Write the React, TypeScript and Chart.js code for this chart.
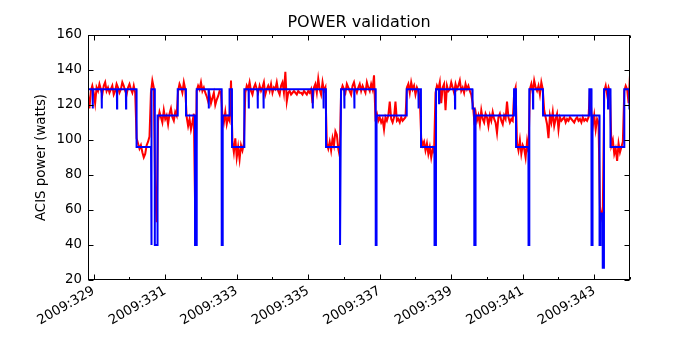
import React, { useEffect, useRef } from "react";
import { Chart, registerables } from "chart.js";

Chart.register(...registerables);

const TITLE = "POWER validation";
const Y_LABEL = "ACIS power (watts)";
const YEAR = "2009";
const X_MIN = 328.84;
const X_MAX = 344.0;
const Y_MIN = 20;
const Y_MAX = 160;

const majorDays = [329, 331, 333, 335, 337, 339, 341, 343];
const minorDays = [330, 332, 334, 336, 338, 340, 342, 344];
const yTickValues = [20, 40, 60, 80, 100, 120, 140, 160];

// Model (blue) – day of year, watts
const modelDays = [
  328.84, 328.967, 328.972, 328.977, 329.219, 329.224, 329.229, 329.647, 329.652, 329.657,
  329.899, 329.904, 329.909, 330.195, 330.199, 330.603, 330.606, 330.62, 330.623, 330.706,
  330.709, 330.782, 330.785, 331.347, 331.35, 331.579, 331.582, 331.831, 331.834, 331.878,
  331.881, 332.212, 332.217, 332.222, 332.577, 332.58, 332.605, 332.608, 332.796, 332.799,
  332.866, 332.869, 333.21, 333.213, 333.331, 333.336, 333.341, 333.582, 333.587, 333.592,
  333.745, 333.75, 333.755, 335.121, 335.126, 335.131, 335.423, 335.428, 335.433, 335.495,
  335.498, 335.887, 335.89, 335.914, 335.917, 336.005, 336.01, 336.015, 336.285, 336.29,
  336.295, 336.885, 336.888, 336.908, 336.911, 337.752, 337.755, 338.08, 338.085, 338.09,
  338.152, 338.155, 338.53, 338.533, 338.572, 338.575, 338.654, 338.659, 338.664, 339.101,
  339.106, 339.111, 339.59, 339.596, 339.643, 339.646, 339.677, 339.68, 340.754, 340.757,
  340.81, 340.813, 341.159, 341.162, 341.181, 341.184, 341.283, 341.288, 341.293, 341.565,
  341.568, 342.86, 342.863, 342.921, 342.924, 342.949, 342.952, 343.145, 343.148, 343.173,
  343.176, 343.235, 343.238, 343.271, 343.274, 343.381, 343.386, 343.391, 343.452, 343.455,
  343.838, 343.841, 343.978, 343.985, 344.05,
];
const modelWatts = [
  129, 129, 118, 129, 129, 118, 129, 129, 118, 129,
  129, 118, 129, 129, 96, 96, 40, 40, 129, 129,
  40, 40, 114, 114, 129, 129, 114, 114, 40, 40,
  129, 129, 118, 129, 129, 40, 40, 114, 114, 129,
  129, 96, 96, 129, 129, 118, 129, 129, 118, 129,
  129, 118, 129, 129, 118, 129, 129, 118, 129, 129,
  96, 96, 40, 40, 129, 129, 118, 129, 129, 118,
  129, 129, 40, 40, 114, 114, 129, 129, 118, 129,
  129, 96, 96, 40, 40, 129, 129, 121, 129, 129,
  118, 129, 129, 118, 118, 40, 40, 114, 114, 129,
  129, 96, 96, 40, 40, 129, 129, 118, 129, 129,
  114, 114, 129, 129, 40, 40, 114, 114, 40, 40,
  58, 58, 27, 27, 129, 129, 118, 129, 129, 96,
  96, 129, 129, 118, 118,
];

// Telemetry (red) – samples every 0.04 day from day 328.84
const telemStartDay = 328.84;
const telemStepDay = 0.04;
const telemWatts = [
  126, 118, 128, 131, 127, 121, 130, 128, 132, 129,
  126, 131, 133, 128, 130, 127, 129, 131, 126, 128,
  132, 130, 127, 129, 133, 131, 128, 126, 130, 132,
  129, 127, 131, 127,
  101, 98, 95, 97, 93, 90, 92, 97, 99, 102,
  127, 134, 130, 70, 53,
  111, 116, 113, 110, 117, 112, 114, 109, 115, 118, 113, 111, 116, 114,
  128, 132, 130, 127, 133, 129,
  113, 108, 112, 106, 110, 115,
  56, 128,
  131, 129, 133, 128, 130, 127, 125,
  122, 126, 121, 124, 127, 120, 123, 125, 128,
  127,
  114, 110, 116, 109, 113, 111,
  134,
  99, 93, 101, 90, 96, 89, 97, 94, 98,
  127, 131, 129, 133, 128, 126, 130, 132, 129, 127,
  131, 128, 130, 133, 126, 129, 131, 128, 132, 127,
  130, 129, 133, 128, 126, 131,
  133, 127, 139, 122, 127, 128, 126, 127, 128, 127,
  126, 128, 127, 127, 126, 128, 127, 126, 128, 127, 129,
  121, 130, 132, 127, 135, 129, 126, 133, 128, 130,
  98, 95, 99, 94, 101, 97, 105, 103, 95, 91,
  128, 131, 129, 127, 132, 130, 128, 126, 131, 133,
  129, 127, 130, 132, 128, 131, 129, 127, 133, 130,
  128, 132, 129, 137,
  113, 115, 111, 113, 110, 112, 106, 113, 111, 114,
  122, 112, 110, 113, 122, 111, 112, 110, 113, 111, 112, 113,
  130, 132, 127, 133, 129, 131, 126, 130, 128, 124,
  101, 97, 99, 94, 98, 92, 96, 90, 95, 93,
  127, 131, 129, 133, 121, 130, 132, 117, 131, 128,
  129, 133, 130, 127, 132, 129, 131, 134, 128, 130,
  127, 132, 129, 131, 128, 126,
  121, 112,
  116, 111, 114, 109, 117, 112, 110, 115, 113, 108,
  114, 111, 116, 112, 110, 104, 113, 115, 111, 109,
  114, 112, 122, 113, 110, 112, 111,
  127, 130,
  98, 94, 100, 92, 97, 95, 90, 99, 93,
  129, 132, 127, 134, 130, 128, 131, 126, 133, 129,
  117, 113, 109, 101, 114, 110, 116, 108, 112, 115, 106, 113,
  111, 112, 113, 110, 112, 111, 113, 112, 111, 110,
  112, 113, 111, 112, 110, 113, 111, 112, 111, 113,
  129, 116, 108, 114, 106, 112, 110,
  62, 56, 60,
  128, 131, 126, 130, 127,
  97, 100, 92, 95, 88, 98, 93, 96, 99,
  128, 131, 129, 121, 137,
];

const FONT = '"DejaVu Sans", "Liberation Sans", sans-serif';
const FONT_SIZE = 13.33;

const framePlugin = {
  id: "mplFrame",
  afterDraw(chart: any) {
    const { ctx, chartArea, scales } = chart;
    const { left, right, top, bottom } = chartArea;
    ctx.save();
    ctx.strokeStyle = "#000";
    ctx.lineWidth = 1;
    const L = Math.round(left) + 0.5;
    const R = Math.round(right) - 0.5;
    const T = Math.round(top) + 0.5;
    const B = Math.round(bottom) - 0.5;
    ctx.strokeRect(L, T, R - L, B - T);
    ctx.beginPath();
    const drawX = (d: number, len: number) => {
      const x = Math.round(scales.x.getPixelForValue(d)) + 0.5;
      if (x < left - 0.5 || x > right + 0.5) return;
      ctx.moveTo(x, B);
      ctx.lineTo(x, B - len);
      ctx.moveTo(x, T);
      ctx.lineTo(x, T + len);
    };
    majorDays.forEach((d) => drawX(d, 5));
    minorDays.forEach((d) => drawX(d, 2.5));
    yTickValues.forEach((v) => {
      const y = Math.round(scales.y.getPixelForValue(v)) + 0.5;
      ctx.moveTo(L, y);
      ctx.lineTo(L + 5, y);
      ctx.moveTo(R, y);
      ctx.lineTo(R - 5, y);
    });
    ctx.stroke();
    ctx.fillStyle = "#000";
    ctx.font = `16px ${FONT}`;
    ctx.textAlign = "center";
    ctx.textBaseline = "middle";
    ctx.fillText(TITLE, (left + right) / 2, 23);
    ctx.restore();
  },
};

export default function App() {
  const canvasRef = useRef<HTMLCanvasElement | null>(null);

  useEffect(() => {
    const canvas = canvasRef.current;
    if (!canvas) return;
    const modelData = modelDays.map((d, i) => ({ x: d, y: modelWatts[i] }));
    const telemData = telemWatts.map((w, i) => ({ x: telemStartDay + i * telemStepDay, y: w }));

    const chart = new Chart(canvas, {
      type: "line",
      data: {
        datasets: [
          {
            label: "model",
            data: modelData,
            borderColor: "#0000ff",
            borderWidth: 2,
            pointRadius: 0,
            tension: 0,
            fill: false,
            order: 0,
          },
          {
            label: "telemetry",
            data: telemData,
            borderColor: "#ff0000",
            borderWidth: 2,
            pointRadius: 0,
            tension: 0,
            fill: false,
            order: 1,
          },
        ],
      },
      options: {
        animation: false,
        responsive: true,
        maintainAspectRatio: false,
        layout: { padding: { top: 35, right: 70, left: 0, bottom: 0 } },
        plugins: {
          legend: { display: false },
          tooltip: { enabled: false },
          title: { display: false },
        },
        scales: {
          x: {
            type: "linear",
            min: X_MIN,
            max: X_MAX,
            afterBuildTicks: (scale: any) => {
              scale.ticks = majorDays.map((v) => ({ value: v }));
            },
            afterFit: (scale: any) => {
              scale.height = 70;
            },
            grid: { display: false, drawTicks: false },
            border: { display: false },
            ticks: {
              minRotation: 30,
              maxRotation: 30,
              autoSkip: false,
              padding: 3,
              color: "#000",
              font: { family: FONT, size: FONT_SIZE },
              callback: (v: any) => `${YEAR}:${v}`,
            },
          },
          y: {
            min: Y_MIN,
            max: Y_MAX,
            afterBuildTicks: (scale: any) => {
              scale.ticks = yTickValues.map((v) => ({ value: v }));
            },
            afterFit: (scale: any) => {
              scale.width = 88;
            },
            grid: { display: false, drawTicks: false },
            border: { display: false },
            ticks: {
              padding: 6,
              color: "#000",
              font: { family: FONT, size: FONT_SIZE },
            },
            title: {
              display: true,
              text: Y_LABEL,
              color: "#000",
              font: { family: FONT, size: FONT_SIZE },
              padding: { top: 34, bottom: 0 },
            },
          },
        },
      },
      plugins: [framePlugin],
    });
    return () => chart.destroy();
  }, []);

  return (
    <div style={{ position: "fixed", left: 0, top: 0, width: 700, height: 350, background: "#fff" }}>
      <canvas ref={canvasRef} />
    </div>
  );
}
